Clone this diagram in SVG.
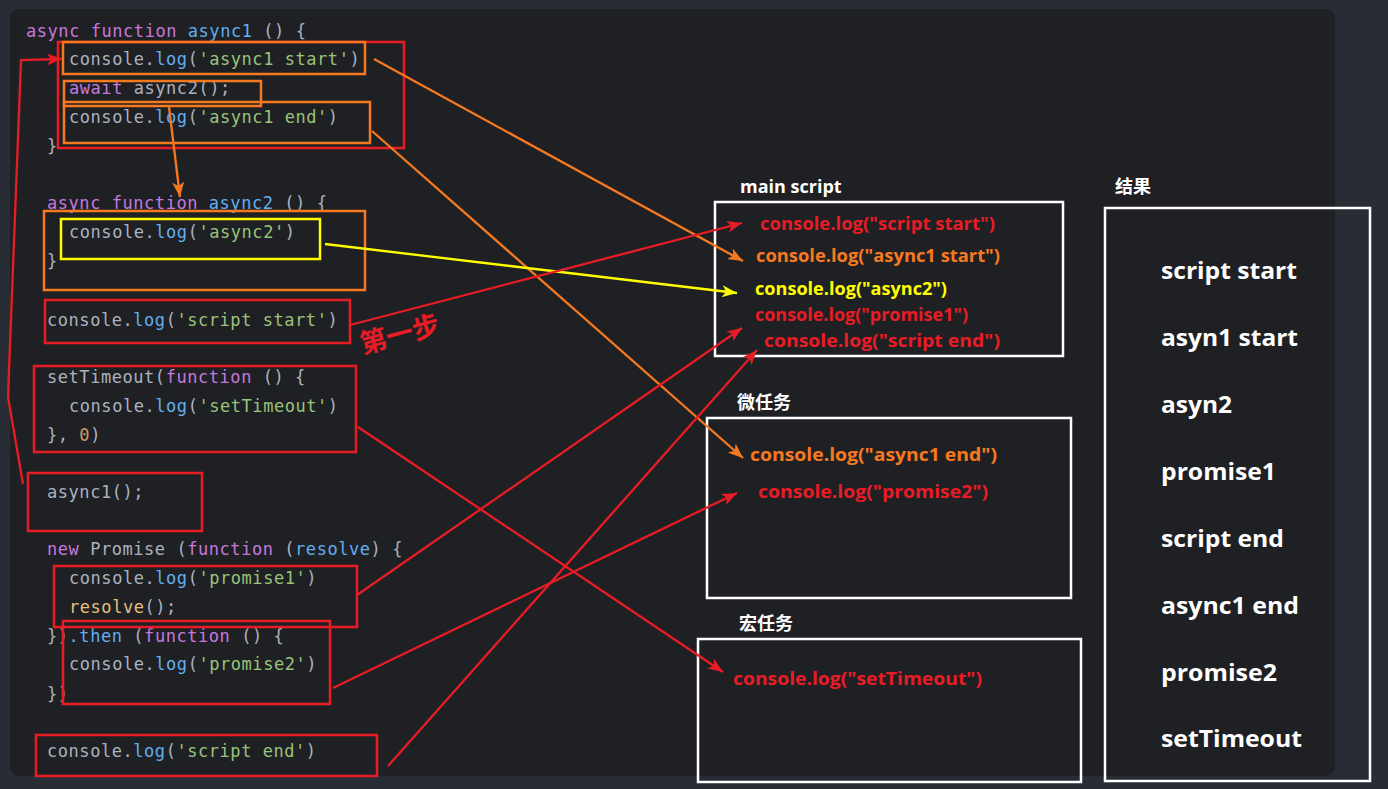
<svg xmlns="http://www.w3.org/2000/svg" width="1388" height="789" viewBox="0 0 1388 789">
<style>
.code{font-family:"DejaVu Sans Mono","Liberation Mono",monospace;font-size:17px;letter-spacing:0.55px;fill:#abb2bf;white-space:pre}
.kw{fill:#c678dd}.fn{fill:#61afef}.str{fill:#98c379}.num{fill:#d19a66}.yel{fill:#e5c07b}
.rb{fill:none;stroke:#e81c24;stroke-width:2.5}
.ob{fill:none;stroke:#f7791f;stroke-width:2.5}
.yb{fill:none;stroke:#ffff00;stroke-width:2.5}
.wb{fill:none;stroke:#ffffff;stroke-width:2.5}
.lbl{font-family:"Open Sans","Noto Sans CJK SC",sans-serif;font-weight:bold;font-size:18px;fill:#ffffff}
.log{font-family:"Open Sans","Noto Sans",sans-serif;font-weight:bold;font-size:18px}
.res{font-family:"Open Sans","Noto Sans",sans-serif;font-weight:bold;font-size:24px;fill:#ffffff}
.red{fill:#e81c24}.org{fill:#f7791f}.ylw{fill:#ffff00}
.cr{fill:none;stroke:#e81c24;stroke-width:2.3}
.co{fill:none;stroke:#f7791f;stroke-width:2.3}
.cy{fill:none;stroke:#ffff00;stroke-width:2.3}
</style>
<defs>
<marker id="ar" markerUnits="userSpaceOnUse" markerWidth="16" markerHeight="12" refX="15" refY="6" orient="auto"><path d="M0,0 L15,6 L0,12 L4,6 z" fill="#e81c24"/></marker>
<marker id="ao" markerUnits="userSpaceOnUse" markerWidth="16" markerHeight="12" refX="15" refY="6" orient="auto"><path d="M0,0 L15,6 L0,12 L4,6 z" fill="#f7791f"/></marker>
<marker id="ay" markerUnits="userSpaceOnUse" markerWidth="16" markerHeight="12" refX="15" refY="6" orient="auto"><path d="M0,0 L15,6 L0,12 L4,6 z" fill="#ffff00"/></marker>
</defs>
<rect x="0" y="0" width="1388" height="789" fill="#282c34"/>
<rect x="10" y="9" width="1325" height="767" rx="9" fill="#1f2024"/>

<g id="code">
<text class="code" x="26" y="37"><tspan class="kw">async function</tspan><tspan class="fn"> async1</tspan> () {</text>
<text class="code" x="69" y="65">console.<tspan class="fn">log</tspan>(<tspan class="str">'async1 start'</tspan>)</text>
<text class="code" x="69" y="94"><tspan class="kw">await</tspan> async2();</text>
<text class="code" x="69" y="123">console.<tspan class="fn">log</tspan>(<tspan class="str">'async1 end'</tspan>)</text>
<text class="code" x="47" y="152">}</text>
<text class="code" x="47" y="209"><tspan class="kw">async function</tspan><tspan class="fn"> async2</tspan> () {</text>
<text class="code" x="69" y="238">console.<tspan class="fn">log</tspan>(<tspan class="str">'async2'</tspan>)</text>
<text class="code" x="47" y="267">}</text>
<text class="code" x="47" y="326">console.<tspan class="fn">log</tspan>(<tspan class="str">'script start'</tspan>)</text>
<text class="code" x="47" y="383">setTimeout(<tspan class="kw">function</tspan> () {</text>
<text class="code" x="69" y="412">console.<tspan class="fn">log</tspan>(<tspan class="str">'setTimeout'</tspan>)</text>
<text class="code" x="47" y="441">}, <tspan class="num">0</tspan>)</text>
<text class="code" x="47" y="498">async1();</text>
<text class="code" x="47" y="555"><tspan class="kw">new</tspan> Promise (<tspan class="kw">function</tspan> (<tspan class="fn">resolve</tspan>) {</text>
<text class="code" x="69" y="584">console.<tspan class="fn">log</tspan>(<tspan class="str">'promise1'</tspan>)</text>
<text class="code" x="69" y="613"><tspan class="yel">resolve</tspan>();</text>
<text class="code" x="47" y="642">})<tspan class="fn">.then</tspan> (<tspan class="kw">function</tspan> () {</text>
<text class="code" x="69" y="670">console.<tspan class="fn">log</tspan>(<tspan class="str">'promise2'</tspan>)</text>
<text class="code" x="47" y="700">})</text>
<text class="code" x="47" y="757">console.<tspan class="fn">log</tspan>(<tspan class="str">'script end'</tspan>)</text>
</g>

<g id="code-boxes">
<rect id="box-async1" class="rb" x="58" y="42" width="346" height="106"/>
<rect id="box-async1-start" class="ob" x="63" y="42" width="302" height="32"/>
<rect id="box-await" class="ob" x="64" y="81" width="197" height="25"/>
<rect id="box-async1-end" class="ob" x="64" y="102" width="306" height="41"/>
<rect id="box-async2-fn" class="ob" x="44" y="211" width="321" height="79"/>
<rect id="box-async2" class="yb" x="61" y="219" width="259" height="40"/>
<rect id="box-script-start" class="rb" x="45" y="300" width="305" height="43"/>
<rect id="box-settimeout" class="rb" x="34" y="366" width="322" height="86"/>
<rect id="box-call-async1" class="rb" x="28" y="473" width="174" height="58"/>
<rect id="box-promise1" class="rb" x="54" y="566" width="303" height="61"/>
<rect id="box-promise2" class="rb" x="63" y="621" width="267" height="83"/>
<rect id="box-script-end" class="rb" x="36" y="735" width="341" height="41"/>
</g>

<g id="step-label">
<text x="363" y="354" transform="rotate(-15 363 354)" font-family="Noto Sans CJK SC,sans-serif" font-weight="bold" font-size="27" fill="#e81c24">第一步</text>
</g>

<g id="main-script">
<text class="lbl" x="740" y="193">main script</text>
<rect class="wb" x="715" y="202" width="348" height="154"/>
<text class="log red" x="760" y="230" textLength="235" lengthAdjust="spacingAndGlyphs">console.log("script start")</text>
<text class="log org" x="756" y="262" textLength="244" lengthAdjust="spacingAndGlyphs">console.log("async1 start")</text>
<text class="log ylw" x="755" y="295" textLength="192" lengthAdjust="spacingAndGlyphs">console.log("async2")</text>
<text class="log red" x="755" y="321" textLength="213" lengthAdjust="spacingAndGlyphs">console.log("promise1")</text>
<text class="log red" x="764" y="347" textLength="236" lengthAdjust="spacingAndGlyphs">console.log("script end")</text>
</g>

<g id="microtask">
<text class="lbl" x="737" y="409" font-family="Noto Sans CJK SC,sans-serif">微任务</text>
<rect class="wb" x="707" y="418" width="364" height="180"/>
<text class="log org" x="750" y="461" textLength="247" lengthAdjust="spacingAndGlyphs">console.log("async1 end")</text>
<text class="log red" x="758" y="498" textLength="230" lengthAdjust="spacingAndGlyphs">console.log("promise2")</text>
</g>

<g id="macrotask">
<text class="lbl" x="739" y="630" font-family="Noto Sans CJK SC,sans-serif">宏任务</text>
<rect class="wb" x="698" y="639" width="383" height="143"/>
<text class="log red" x="733" y="685" textLength="249" lengthAdjust="spacingAndGlyphs">console.log("setTimeout")</text>
</g>

<g id="result">
<text class="lbl" x="1115" y="193" font-family="Noto Sans CJK SC,sans-serif">结果</text>
<rect class="wb" x="1105" y="208" width="265" height="573"/>
<text class="res" x="1161" y="279" textLength="136" lengthAdjust="spacingAndGlyphs">script start</text>
<text class="res" x="1161" y="346" textLength="137" lengthAdjust="spacingAndGlyphs">asyn1 start</text>
<text class="res" x="1161" y="413" textLength="71" lengthAdjust="spacingAndGlyphs">asyn2</text>
<text class="res" x="1161" y="480" textLength="115" lengthAdjust="spacingAndGlyphs">promise1</text>
<text class="res" x="1161" y="547" textLength="123" lengthAdjust="spacingAndGlyphs">script end</text>
<text class="res" x="1161" y="614" textLength="138" lengthAdjust="spacingAndGlyphs">async1 end</text>
<text class="res" x="1161" y="681" textLength="116" lengthAdjust="spacingAndGlyphs">promise2</text>
<text class="res" x="1161" y="747" textLength="141" lengthAdjust="spacingAndGlyphs">setTimeout</text>
</g>

<g id="connectors">
<polyline class="cr" points="23,484 8,397 21,60 62,59" marker-end="url(#ar)"/>
<line class="co" x1="169" y1="107" x2="180" y2="197" marker-end="url(#ao)"/>
<line class="co" x1="374" y1="59" x2="743" y2="261" marker-end="url(#ao)"/>
<line class="co" x1="372" y1="131" x2="743" y2="458" marker-end="url(#ao)"/>
<line class="cy" x1="325" y1="244" x2="737" y2="293" marker-end="url(#ay)"/>
<line class="cr" x1="350" y1="325" x2="742" y2="223" marker-end="url(#ar)"/>
<line class="cr" x1="358" y1="427" x2="723" y2="672" marker-end="url(#ar)"/>
<line class="cr" x1="357" y1="595" x2="742" y2="328" marker-end="url(#ar)"/>
<line class="cr" x1="333" y1="688" x2="737" y2="493" marker-end="url(#ar)"/>
<line class="cr" x1="388" y1="766" x2="757" y2="350" marker-end="url(#ar)"/>
</g>
</svg>
